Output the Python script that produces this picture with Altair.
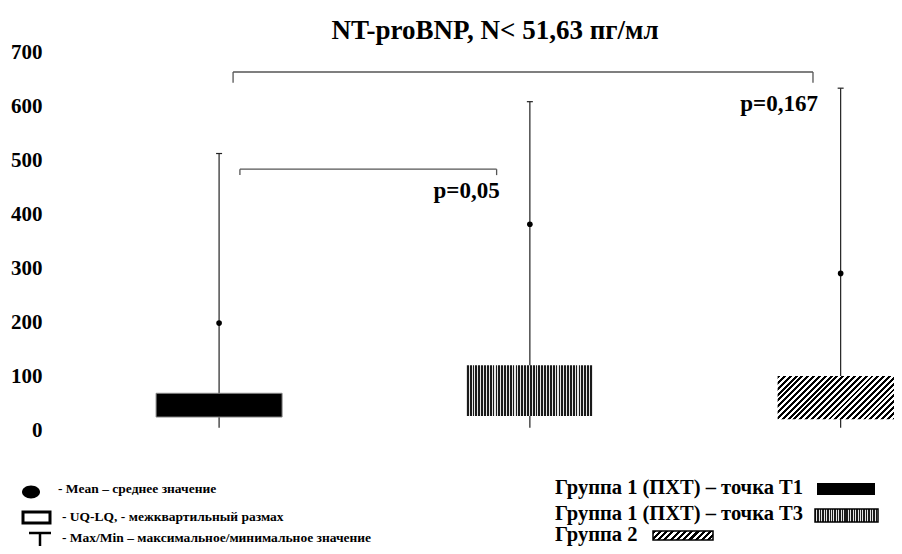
import altair as alt
import pandas as pd

# ---------------- data ----------------
groups = ["Группа 1 (ПХТ) – точка Т1", "Группа 1 (ПХТ) – точка Т3", "Группа 2"]
positions = [1, 2, 3]
q1 = [24, 26, 20]
q3 = [68, 120, 100]
mins = [4, 4, 4]
maxs = [512, 608, 633]
means = [198, 381, 290]

y_ticks = [0, 100, 200, 300, 400, 500, 600, 700]

cmp_from = [1.045, 1.067]
cmp_to = [2.911, 1.893]
cmp_level = [663, 483]
cmp_tip = [643, 472]
p_labels = ["p=0,167", "p=0,05"]
p_x = [2.927, 1.903]
p_y = [604, 443]

title_text = "NT-proBNP, N< 51,63 пг/мл"
stat_legend = [
    "-  Mean – среднее значение",
    "- UQ-LQ,  - межквартильный размах",
    "- Max/Min – максимальное/минимальное  значение",
]

# ---------------- tables ----------------
boxes = pd.DataFrame({"group": groups, "pos": positions, "q1": q1, "q3": q3,
                      "lo": mins, "hi": maxs, "mean": means})
cmp = pd.DataFrame({"x0": cmp_from, "x1": cmp_to, "lvl": cmp_level, "tip": cmp_tip})
ptab = pd.DataFrame({"label": p_labels, "px": p_x, "py": p_y})
one = pd.DataFrame({"k": [0]})

SERIF = "Liberation Serif"

xscale = alt.Scale(domain=[0.472, 3.1556], nice=False, zero=False)
yscale = alt.Scale(domain=[0, 700], nice=False, zero=False)
yaxis = alt.Axis(values=y_ticks, ticks=False, domain=False, grid=False, labelPadding=8,
                 labelFont=SERIF, labelFontWeight="bold", labelFontSize=21,
                 labelColor="black", title=None)


def X(f):
    return alt.X(f, type="quantitative", scale=xscale, axis=None)


def Y(f):
    return alt.Y(f, type="quantitative", scale=yscale, axis=yaxis)


def stripes(n, dark, light, frac, x2, y2):
    stops = []
    for i in range(n):
        a = round(i / n, 5)
        b = round((i + frac) / n, 5)
        c = round((i + 1) / n, 5)
        stops += [alt.GradientStop(color=dark, offset=a), alt.GradientStop(color=dark, offset=b),
                  alt.GradientStop(color=light, offset=b), alt.GradientStop(color=light, offset=c)]
    return alt.LinearGradient(gradient="linear", stops=stops, x1=0, y1=0, x2=x2, y2=y2)


vert = stripes(44, "#1a1a1a", "#e4e4e4", 0.62, 1, 0)
diag = stripes(29, "#000000", "#ffffff", 0.5, 1.2017, 0.412)
vert_small = stripes(26, "#1a1a1a", "#e4e4e4", 0.6, 1, 0)
diag_small = stripes(11, "#000000", "#ffffff", 0.5, 1.125, 0.169)

base = alt.Chart(boxes)

whisk = base.mark_rule(color="#222222", strokeWidth=1.2).encode(x=X("pos"), y=Y("lo"), y2="hi")
caps = base.mark_rule(color="#222222", strokeWidth=1.2, xOffset=-3, x2Offset=3).encode(
    x=X("pos"), x2="pos", y=Y("hi"))

box1 = base.transform_filter(alt.datum.pos == 1).mark_bar(
    size=126, orient="vertical", fill="black", stroke="#888888", strokeWidth=1, clip=True
).encode(x=X("pos"), y=Y("q1"), y2="q3")
box2 = base.transform_filter(alt.datum.pos == 2).mark_bar(
    size=126, orient="vertical", fill=vert, clip=True
).encode(x=X("pos"), y=Y("q1"), y2="q3")
box3 = base.transform_filter(alt.datum.pos == 3).mark_bar(
    size=126, orient="vertical", fill=diag, clip=True
).encode(x=X("pos"), y=Y("q1"), y2="q3")

meanpts = base.mark_circle(size=32, color="black", opacity=1).encode(x=X("pos"), y=Y("mean"))

cb = alt.Chart(cmp)
br_h = cb.mark_rule(color="#555555", strokeWidth=1.3).encode(x=X("x0"), x2="x1", y=Y("lvl"))
br_l = cb.mark_rule(color="#555555", strokeWidth=1.3).encode(x=X("x0"), y=Y("lvl"), y2="tip")
br_r = cb.mark_rule(color="#555555", strokeWidth=1.3).encode(x=X("x1"), y=Y("lvl"), y2="tip")

ptext = alt.Chart(ptab).mark_text(align="right", baseline="middle", font=SERIF,
                                  fontWeight="bold", fontSize=23, color="black").encode(
    x=X("px"), y=Y("py"), text="label:N")

# ---------------- title & legends (pixel placed decorations) ----------------
o = alt.Chart(one)


def txt(s, x, y, size, align="left"):
    return o.mark_text(text=s, align=align, baseline="middle", font=SERIF, fontWeight="bold",
                       fontSize=size, color="black").encode(x=alt.value(x), y=alt.value(y))


title = txt(title_text, 445, -21, 27, align="center")

ell = "M-1,0 A1,0.72 0 1,1 1,0 A1,0.72 0 1,1 -1,0 Z"
lg_dot = o.mark_point(shape=ell, filled=True, size=324, color="black", opacity=1).encode(
    x=alt.value(-19), y=alt.value(440))
lg_box = o.mark_rect(fill="white", stroke="black", strokeWidth=3).encode(
    x=alt.value(-27), x2=alt.value(0), y=alt.value(460), y2=alt.value(471))
lg_th = o.mark_rule(color="black", strokeWidth=2.5).encode(
    x=alt.value(-21), x2=alt.value(1), y=alt.value(481))
lg_tv = o.mark_rule(color="black", strokeWidth=2.5).encode(
    x=alt.value(-10), y=alt.value(481), y2=alt.value(506))
lt1 = txt(stat_legend[0], 8, 437, 13.5)
lt2 = txt(stat_legend[1], 12, 465, 13.5)
lt3 = txt(stat_legend[2], 12, 486, 13.5)

gt1 = txt(groups[0], 505, 436, 20.5)
gt2 = txt(groups[1], 505, 462, 20.5)
gt3 = txt(groups[2], 505, 483, 20.5)
sw1 = o.mark_rect(fill="black").encode(
    x=alt.value(767), x2=alt.value(825), y=alt.value(431), y2=alt.value(443))
sw2 = o.mark_rect(fill=vert_small, stroke="black", strokeWidth=1.5).encode(
    x=alt.value(765), x2=alt.value(828), y=alt.value(457), y2=alt.value(470))
sw3 = o.mark_rect(fill=diag_small, stroke="black", strokeWidth=1.5).encode(
    x=alt.value(603), x2=alt.value(663), y=alt.value(479), y2=alt.value(488))

chart = alt.layer(
    whisk, box1, box2, box3, caps, meanpts, br_h, br_l, br_r, ptext,
    title, lg_dot, lg_box, lg_th, lg_tv, lt1, lt2, lt3, gt1, gt2, gt3, sw1, sw2, sw3
).properties(
    width=844, height=378,
    autosize=alt.AutoSizeParams(type="none"),
    padding={"left": 42, "top": 44, "right": 0, "bottom": 116},
    background="white",
).configure_view(stroke=None)

chart.save("out.html", embed_options={"renderer": "svg", "actions": False})
